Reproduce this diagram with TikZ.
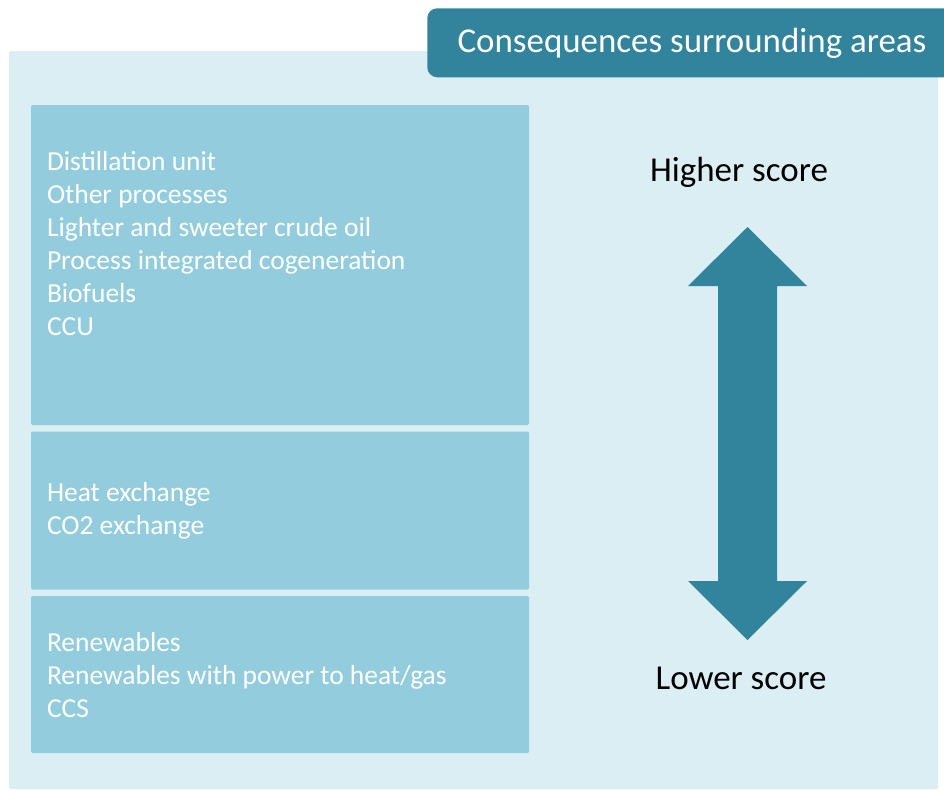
\documentclass[tikz,border=0pt]{standalone}
\usepackage{fontspec}
\setmainfont{Carlito}
\usetikzlibrary{positioning}
\definecolor{panelblue}{HTML}{DAEEF3}
\definecolor{groupblue}{HTML}{93CDDD}
\definecolor{tealblue}{HTML}{31849B}

\begin{document}
\begin{tikzpicture}[
  x=0.75pt, y=-0.75pt,
  node distance=4.5pt,
  group/.style={fill=groupblue, rounded corners=1pt, minimum width=373.5pt, inner sep=0pt},
  items/.style={text=white, align=left, anchor=west, inner sep=0pt, font=\fontsize{20.6}{24.75}\selectfont},
  score/.style={text=black, inner sep=0pt, font=\fontsize{26.2}{30}\selectfont}
]
\useasboundingbox (0,0) rectangle (944,789);
\fill[panelblue, rounded corners=1.5pt] (9,51) rectangle (938,789);
\node[fill=tealblue, rounded corners=7.5pt, minimum width=396pt, minimum height=51.75pt, anchor=north west] (title) at (427,8) {};
\node[text=white, font=\fontsize{26.2}{30}\selectfont] (titletext) at (692,43) {Consequences surrounding areas};
\node[group, minimum height=240pt] (high) at (280,265) {};
\node[group, minimum height=118.5pt, below=of high] (mid) {};
\node[group, minimum height=117.75pt, below=of mid] (low) {};
\node[items, xshift=12pt, yshift=16pt] (highitems) at (high.west) {Distillation unit\\Other processes\\Lighter and sweeter crude oil\\Process integrated cogeneration\\Biofuels\\CCU};
\node[items, xshift=12pt] (miditems) at (mid.west) {Heat exchange\\CO2 exchange};
\node[items, xshift=12pt] (lowitems) at (low.west) {Renewables\\Renewables with power to heat/gas\\CCS};
\node[score] (higher) at (739,172) {Higher score};
\node[score] (lower) at (741,678) {Lower score};
\fill[tealblue] (747.5,227) -- (807,286) -- (777,286) -- (777,581) -- (807,581) -- (747.5,640)
  -- (688,581) -- (718,581) -- (718,286) -- (688,286) -- cycle;
\end{tikzpicture}
\end{document}
